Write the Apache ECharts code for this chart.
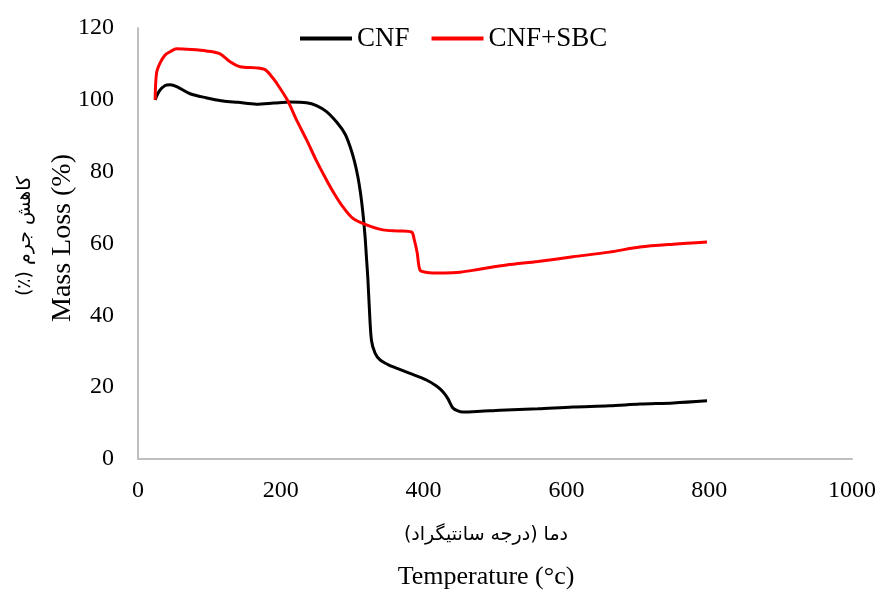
<!DOCTYPE html>
<html>
<head>
<meta charset="utf-8">
<script src="https://cdn.jsdelivr.net/npm/echarts@6/dist/echarts.min.js"></script>
<style>
html,body{margin:0;padding:0;background:#fff;}
#chart{width:882px;height:590px;}
</style>
</head>
<body>
<div id="chart"></div>
<script>
var cnfTemp = [24, 30, 38, 45, 55, 73, 95, 119, 140, 166, 190, 213, 236, 250, 264, 279, 290, 297, 303, 308, 312, 315, 318, 320, 322, 324, 327, 332, 339, 350, 362, 380, 404, 418, 427, 434, 441, 448, 455, 480, 507, 560, 609, 660, 703, 750, 797];
var cnfMass = [100, 102.5, 104, 104.2, 103.6, 101.7, 100.6, 99.7, 99.3, 98.8, 99.1, 99.4, 99.2, 98.4, 96.7, 93.6, 90.5, 87, 83, 78.5, 73.5, 68.5, 62, 56, 50, 42, 33, 29.5, 27.6, 26.3, 25.3, 23.9, 22, 20.3, 18.7, 16.8, 14.2, 13.4, 13.1, 13.3, 13.6, 14, 14.5, 14.8, 15.3, 15.6, 16.2];
var sbcTemp = [24, 26, 31, 38, 45, 54, 75, 96, 115, 129, 143, 166, 178, 186, 194, 209, 222, 236, 250, 264, 276, 287, 301, 320, 343, 365, 383, 387, 391, 395, 403, 413, 430, 451, 480, 516, 560, 609, 660, 703, 750, 797];
var sbcMass = [100, 107.5, 110.3, 112.5, 113.4, 114.2, 114, 113.6, 112.8, 110.6, 109.2, 108.9, 108.4, 106.8, 104.7, 100, 94.4, 88.9, 83, 77.7, 73.5, 70.2, 67, 65.2, 63.8, 63.5, 63.2, 61, 57.4, 52.6, 52, 51.8, 51.8, 52, 52.9, 54, 55, 56.3, 57.6, 59, 59.8, 60.4];
var seriesNames = ['CNF', 'CNF+SBC'];
var xTitleFa = 'دما (درجه سانتیگراد)';
var xTitleEn = 'Temperature (°c)';
var yTitleFa = 'کاهش جرم (٪)';
var yTitleEn = 'Mass Loss (%)';

function pairs(xs, ys){ return xs.map(function(x,i){ return [x, ys[i]]; }); }
function rtl(s){ return '\u202B' + s + '\u202C'; }

var chart = echarts.init(document.getElementById('chart'), null, {renderer:'canvas'});
var font = '"Liberation Serif", "Times New Roman", serif';
var faFont = '"DejaVu Sans", "Noto Sans", sans-serif';
chart.setOption({
  animation: false,
  backgroundColor: '#fff',
  grid: {left: 138, right: 30, top: 28, bottom: 131},
  legend: {
    top: 20, left: 295,
    itemWidth: 52, itemHeight: 4, itemGap: 22,
    icon: 'rect',
    textStyle: {fontFamily: font, fontSize: 27, color: '#000', padding: [0,0,0,0]},
    data: seriesNames
  },
  xAxis: {
    type: 'value', min: 0, max: 1000, interval: 200,
    axisLine: {lineStyle: {color: '#bfbfbf', width: 2}},
    axisTick: {show: false},
    splitLine: {show: false},
    axisLabel: {fontFamily: font, fontSize: 24, color: '#000', margin: 20,
      formatter: function(v){ return String(v); }}
  },
  yAxis: {
    type: 'value', min: 0, max: 120, interval: 20,
    axisLine: {show: true, lineStyle: {color: '#bfbfbf', width: 2}},
    axisTick: {show: false},
    splitLine: {show: false},
    axisLabel: {fontFamily: font, fontSize: 24, color: '#000', margin: 24}
  },
  graphic: [
    {type: 'text', x: 486, y: 535, style: {text: rtl(xTitleFa), font: '19px ' + faFont, fill: '#000', align: 'center', verticalAlign: 'middle'}},
    {type: 'text', x: 486, y: 577, style: {text: xTitleEn, font: '26px ' + font, fill: '#000', align: 'center', verticalAlign: 'middle'}},
    {type: 'text', x: 63, y: 238, rotation: Math.PI/2, style: {text: yTitleEn, font: '28px ' + font, fill: '#000', align: 'center', verticalAlign: 'middle'}},
    {type: 'text', x: 25, y: 236, rotation: Math.PI/2, style: {text: rtl(yTitleFa), font: '19px ' + faFont, fill: '#000', align: 'center', verticalAlign: 'middle'}}
  ],
  series: [
    {name: seriesNames[0], type: 'line', data: pairs(cnfTemp, cnfMass), showSymbol: false, smooth: 0.3,
     lineStyle: {color: '#000', width: 3}, itemStyle: {color: '#000'}},
    {name: seriesNames[1], type: 'line', data: pairs(sbcTemp, sbcMass), showSymbol: false, smooth: 0.3,
     lineStyle: {color: '#ff0000', width: 3}, itemStyle: {color: '#ff0000'}}
  ]
});
</script>
</body>
</html>
